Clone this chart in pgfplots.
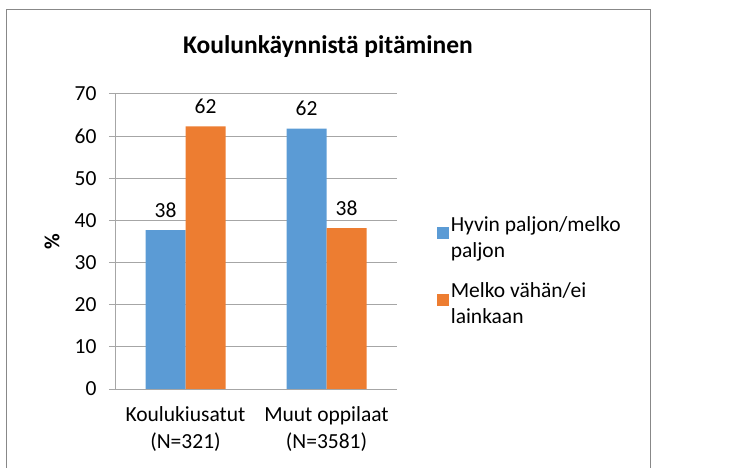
\documentclass[border=0pt]{standalone}
\usepackage{fontspec}
\setmainfont{Carlito}
\usepackage{pgfplots}
\pgfplotsset{compat=1.18}

\definecolor{xlblue}{HTML}{5B9BD5}
\definecolor{xlorange}{HTML}{ED7D31}
\definecolor{gridgray}{HTML}{A6A6A6}
\definecolor{framegray}{HTML}{888888}

\begin{document}
\begin{tikzpicture}
  \useasboundingbox (0,0) rectangle (747bp,468bp);
  % chart frame (bottom edge runs off the picture)
  \draw[framegray, line width=1bp] (6bp,-5bp) rectangle (650bp,458bp);
  \begin{axis}[
      at={(115bp,79bp)}, anchor=south west,
      scale only axis, width=282bp, height=295bp,
      ybar=0pt, bar width=40bp,
      xmin=-0.5, xmax=1.5,
      ymin=0, ymax=70, ytick={0,10,...,70},
      xtick={0,1},
      xticklabels={{Koulukiusatut\\(N=321)},{Muut oppilaat\\(N=3581)}},
      extra x ticks={-0.5,0.5,1.5},
      extra x tick labels={},
      extra x tick style={major tick length=6bp, tick style={gridgray, line width=1bp}, tick align=outside},
      major x tick style={draw=none},
      ytick align=outside, major tick length=6bp,
      tick style={gridgray, line width=1bp},
      ymajorgrids, grid style={gridgray, line width=1bp},
      axis line style={gridgray, line width=1bp},
      axis x line*=bottom, axis y line*=left,
      /pgf/number format/assume math mode=true,
      ticklabel style={font=\fontsize{21.5bp}{27bp}\selectfont},
      xticklabel style={align=center, yshift=-8bp},
      yticklabel style={xshift=-9bp},
      title={Koulunkäynnistä pitäminen},
      title style={font=\fontsize{25.5bp}{30bp}\selectfont\bfseries, at={(axis description cs:0.755,1.142)}, anchor=center},
      ylabel={\%},
      ylabel style={font=\fontsize{21.5bp}{24bp}\selectfont\bfseries, at={(axis description cs:-0.223,0.5)}, anchor=center, rotate=0},
      nodes near coords,
      nodes near coords style={font=\fontsize{21.5bp}{24bp}\selectfont, /pgf/number format/fixed, /pgf/number format/precision=0, /pgf/number format/assume math mode=true, yshift=9bp},
      legend style={at={(1.13,0.60)}, anchor=north west, draw=none, fill=none,
        font=\fontsize{21.5bp}{26bp}\selectfont, row sep=20bp,
        cells={align=left, anchor=west}},
      legend image code/.code={\fill[#1] (0bp,-2bp) rectangle (12bp,10bp);},
      every axis plot/.append style={draw=none},
    ]
    \addplot[fill=xlblue] coordinates {(0,37.7) (1,61.8)};
    \addplot[fill=xlorange] coordinates {(0,62.3) (1,38.2)};
    \legend{{Hyvin paljon/melko\\paljon},{Melko vähän/ei\\lainkaan}}
  \end{axis}
\end{tikzpicture}
\end{document}
